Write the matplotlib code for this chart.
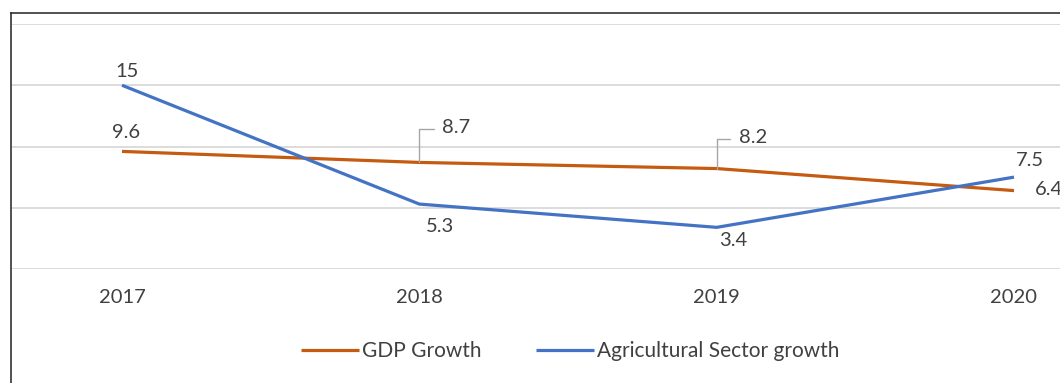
import matplotlib.pyplot as plt
from matplotlib.lines import Line2D

plt.rcParams['font.family'] = ['Lato', 'DejaVu Sans']

years = ['2017', '2018', '2019', '2020']
gdp_growth = [9.6, 8.7, 8.2, 6.4]
agri_growth = [15, 5.3, 3.4, 7.5]

# label offsets in pixels (dx, dy, ha)
gdp_offsets = [(4, 19, 'center'), (23, 35, 'left'), (22, 31, 'left'), (21, 1, 'left')]
agri_offsets = [(5, 14, 'center'), (21, -22, 'center'), (17, -13, 'center'), (16, 17, 'center')]

orange = '#C55A11'
blue = '#4472C4'
text_col = '#404040'
fs = 14.5
W, H = 1060, 383

fig = plt.figure(figsize=(W / 100, H / 100), dpi=100)
# plot area: from x=11px to the right edge, y from 24px to 269px
ax = fig.add_axes([11 / W, (H - 269) / H, 1 - 11 / W, 245 / H])

x = list(range(len(years)))
px_per_cat = 297.3
ax.set_xlim(-(122 - 11) / px_per_cat, 3 + (1060 - 1014) / px_per_cat)
ax.set_ylim(0, 20)
ax.set_yticks([0, 5, 10, 15, 20])
ax.yaxis.grid(True, color='#D9D9D9', lw=1.3)
ax.set_axisbelow(True)
for s in ax.spines.values():
    s.set_visible(False)
ax.tick_params(left=False, labelleft=False, bottom=False)
ax.set_xticks(x)
ax.set_xticklabels(years, color=text_col, fontsize=fs)
ax.tick_params(axis='x', pad=11)

ax.plot(x, gdp_growth, color=orange, lw=2.3, solid_capstyle='butt', label='GDP Growth', zorder=3)
ax.plot(x, agri_growth, color=blue, lw=2.3, solid_capstyle='butt', label='Agricultural Sector growth', zorder=3)

for i, v in enumerate(gdp_growth):
    dx, dy, ha = gdp_offsets[i]
    if i in (1, 2):
        ax.annotate(f'{v:g}', (i, v), xytext=(dx, dy), textcoords='offset pixels',
                    ha=ha, va='center', fontsize=fs, color=text_col,
                    arrowprops=dict(arrowstyle='-', color='#A6A6A6', lw=1,
                                    shrinkA=4, shrinkB=0, relpos=(0, 0.4),
                                    connectionstyle='angle,angleA=0,angleB=90,rad=0'))
    else:
        ax.annotate(f'{v:g}', (i, v), xytext=(dx, dy), textcoords='offset pixels',
                    ha=ha, va='center', fontsize=fs, color=text_col, annotation_clip=False)

for i, v in enumerate(agri_growth):
    dx, dy, ha = agri_offsets[i]
    ax.annotate(f'{v:g}', (i, v), xytext=(dx, dy), textcoords='offset pixels',
                ha=ha, va='center', fontsize=fs, color=text_col)

fig.legend(loc='center', bbox_to_anchor=(570 / W, (H - 351) / H), ncol=2, frameon=False,
           fontsize=15, labelcolor=text_col, handlelength=2.8, handletextpad=0.15,
           columnspacing=2.6)

# outer frame (top and left edges)
fig.add_artist(Line2D([11 / W, 1], [(H - 13) / H, (H - 13) / H], color='#222222', lw=1.1))
fig.add_artist(Line2D([11 / W, 11 / W], [0, (H - 13) / H], color='#222222', lw=1.1))

fig.savefig('out.png', dpi=100)
